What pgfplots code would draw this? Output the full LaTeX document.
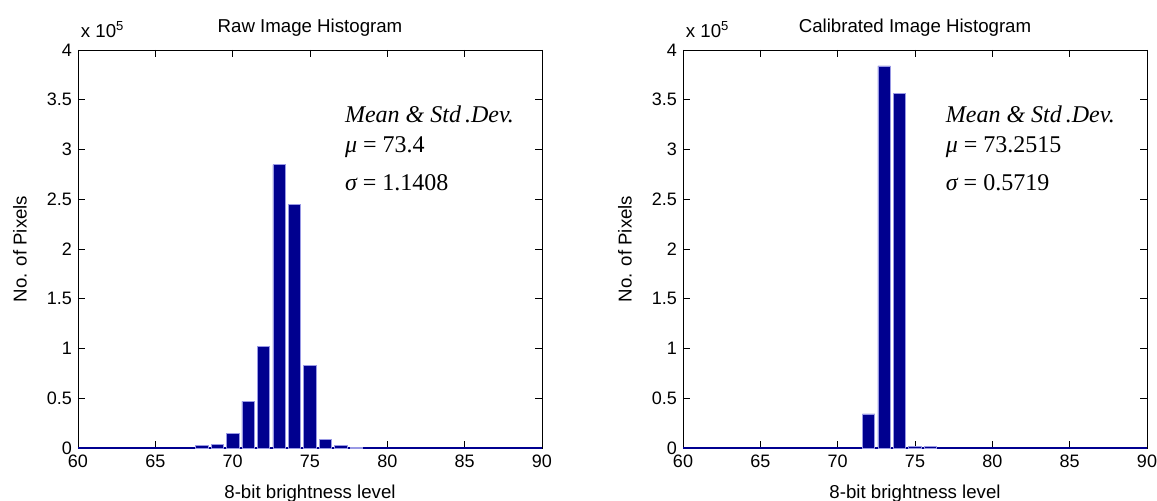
\documentclass[border=0pt]{standalone}
\usepackage{pgfplots}
\pgfplotsset{compat=1.18}
\usepackage{fontspec}
\setmainfont{Liberation Sans}
\newfontfamily\tnr{Liberation Serif}
\definecolor{barnavy}{rgb}{0,0,0.5625}
\definecolor{baredge}{rgb}{0.6,0.6,0.9}

\pgfplotstableread{
x y
68 2500
69 4000
70 14700
71 46900
72 101800
73 284700
74 245000
75 83400
76 8300
77 2700
78 600
}\rawdata

\pgfplotstableread{
x y
72 34200
73 384000
74 356500
75 1700
76 1500
}\caldata

\tikzset{anno/.style={anchor=west, inner sep=0pt, font=\tnr\fontsize{18}{20}\selectfont}}

\pgfplotsset{
  histo/.style={
    scale only axis,
    width=348pt, height=298.5pt,
    xmin=60, xmax=90, ymin=0, ymax=400000,
    xtick={60,65,...,90},
    ytick={0,50000,...,400000},
    yticklabels={0,0.5,1,1.5,2,2.5,3,3.5,4},
    scaled y ticks=false,
    /pgf/number format/assume math mode=true,
    tick style={black, line width=0.6pt},
    major tick length=5pt,
    axis line style={black, line width=0.6pt},
    ticklabel style={font=\fontsize{13.5}{15}\selectfont},
    xticklabel style={yshift=-2pt},
    yticklabel style={xshift=-1pt},
    clip=false,
  },
  histbar/.style={ybar, bar width=0.8, fill=barnavy, draw=baredge, line width=0.5pt},
}

\begin{document}
\begin{tikzpicture}
\path[use as bounding box] (0,0) rectangle (867.75pt,375pt);

% ---------- Left: raw ----------
\begin{axis}[histo, at={(58.5pt,39pt)}, anchor=south west]
\addplot[barnavy, line width=1.2pt, forget plot] coordinates {(60,0) (90,0)};
\addplot[histbar] table[x=x,y=y] {\rawdata};
\node[anchor=south, font=\fontsize{14}{16}\selectfont] at (rel axis cs:0.5,1) [yshift=7pt] {Raw Image Histogram};
\node[anchor=south west, font=\fontsize{14}{16}\selectfont, inner sep=0pt] at (rel axis cs:0,1) [xshift=2pt, yshift=9pt] {x 10\textsuperscript{5}};
\node[anchor=north, font=\fontsize{14}{16}\selectfont] at (rel axis cs:0.5,0) [yshift=-24pt] {8-bit brightness level};
\node[xshift=-43.5pt, rotate=90, font=\fontsize{14}{16}\selectfont] at (rel axis cs:0,0.5) {No. of Pixels};
\node[anno] at (rel axis cs:0.575,0.839) {\itshape Mean \& Std\,.Dev.};
\node[anno] at (rel axis cs:0.575,0.756) {{\itshape μ} = 73.4};
\node[anno] at (rel axis cs:0.575,0.666) {{\itshape σ} = 1.1408};
\end{axis}

% ---------- Right: calibrated ----------
\begin{axis}[histo, at={(512.25pt,39pt)}, anchor=south west]
\addplot[barnavy, line width=1.2pt, forget plot] coordinates {(60,0) (90,0)};
\addplot[histbar] table[x=x,y=y] {\caldata};
\node[anchor=south, font=\fontsize{14}{16}\selectfont] at (rel axis cs:0.5,1) [yshift=7pt] {Calibrated Image Histogram};
\node[anchor=south west, font=\fontsize{14}{16}\selectfont, inner sep=0pt] at (rel axis cs:0,1) [xshift=2pt, yshift=9pt] {x 10\textsuperscript{5}};
\node[anchor=north, font=\fontsize{14}{16}\selectfont] at (rel axis cs:0.5,0) [yshift=-24pt] {8-bit brightness level};
\node[xshift=-43.5pt, rotate=90, font=\fontsize{14}{16}\selectfont] at (rel axis cs:0,0.5) {No. of Pixels};
\node[anno] at (rel axis cs:0.566,0.839) {\itshape Mean \& Std\,.Dev.};
\node[anno] at (rel axis cs:0.566,0.756) {{\itshape μ} = 73.2515};
\node[anno] at (rel axis cs:0.566,0.666) {{\itshape σ} = 0.5719};
\end{axis}
\end{tikzpicture}
\end{document}
